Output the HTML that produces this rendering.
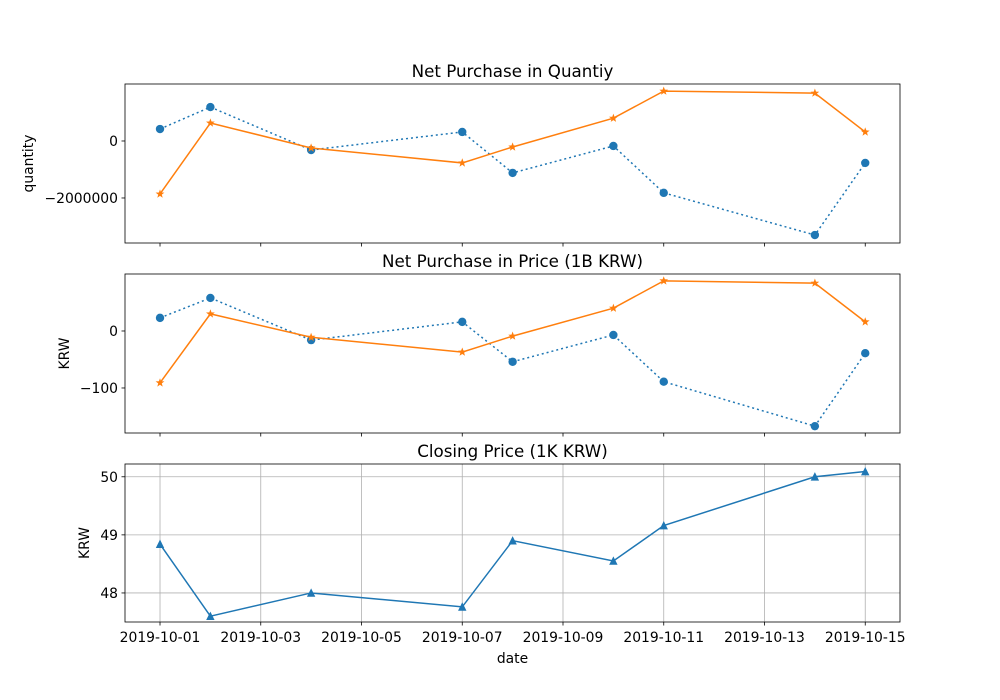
<!DOCTYPE html>
<html><head><meta charset="utf-8"><style>body{margin:0;background:#fff}svg{display:block;font-family:"DejaVu Sans","Liberation Sans",sans-serif}</style></head>
<body>
<svg id="c" width="1000" height="700"></svg>
<script>
const dates=["2019-10-01","2019-10-02","2019-10-04","2019-10-07","2019-10-08","2019-10-10","2019-10-11","2019-10-14","2019-10-15"];
const qtyBlue=[420000,1190000,-316000,316000,-1120000,-175000,-1820000,-3300000,-770000];
const qtyOrange=[-1860000,630000,-245000,-770000,-210000,800000,1750000,1680000,316000];
const priceBlue=[23,58,-16,16,-54,-7,-89,-167,-39];
const priceOrange=[-91,30,-11,-37,-9,40,88,84,16];
const closeVals=[48.84,47.60,48.0,47.76,48.9,48.55,49.16,50.0,50.09];
const xTickLabels=["2019-10-01","2019-10-03","2019-10-05","2019-10-07","2019-10-09","2019-10-11","2019-10-13","2019-10-15"];
const qtyTicks=[0,-2000000];
const priceTicks=[0,-100];
const closeTicks=[48,49,50];

const NS="http://www.w3.org/2000/svg";
const svg=document.getElementById('c');
function el(t,a,p){const e=document.createElementNS(NS,t);for(const k in a)e.setAttribute(k,a[k]);(p||svg).appendChild(e);return e;}
const L=125,R=900;
const day0=Date.UTC(2019,9,1);
function dayOf(s){const [y,m,d]=s.split('-').map(Number);return (Date.UTC(y,m-1,d)-day0)/86400000;}
const dMin=-0.695,dMax=14.69;
function X(s){return L+(dayOf(s)-dMin)/(dMax-dMin)*(R-L);}
const FS=13.9;

function panel(name,top,bot,yMin,yMax,title,ylabel,yticks,fmt,grid,showX,ylx){
  const g=el('g',{});
  
  
  const Y=v=>bot-(v-yMin)/(yMax-yMin)*(bot-top);
  if(grid){
    xTickLabels.forEach(t=>{const l=el('line',{x1:X(t),x2:X(t),y1:top,y2:bot,stroke:'#b0b0b0','stroke-width':0.8},g);});
    yticks.forEach(t=>{const l=el('line',{x1:L,x2:R,y1:Y(t),y2:Y(t),stroke:'#b0b0b0','stroke-width':0.8},g);});
  }
  const fr=el('rect',{x:L,y:top,width:R-L,height:bot-top,fill:'none',stroke:'#000','stroke-width':0.8},g);
  
  xTickLabels.forEach(t=>{
    el('line',{x1:X(t),x2:X(t),y1:bot,y2:bot+3.5,stroke:'#000','stroke-width':0.8},g);
    if(showX){const tx=el('text',{x:X(t),y:bot+20,'text-anchor':'middle','font-size':FS},g);tx.textContent=t;
      }
  });
  yticks.forEach(t=>{
    el('line',{x1:L-3.5,x2:L,y1:Y(t),y2:Y(t),stroke:'#000','stroke-width':0.8},g);
    const tx=el('text',{x:L-7,y:Y(t)+5,'text-anchor':'end','font-size':FS},g);tx.textContent=fmt(t);
    
  });
  const ti=el('text',{x:(L+R)/2,y:top-7,'text-anchor':'middle','font-size':16.7},g);ti.textContent=title;
  
  const yl=el('text',{x:0,y:0,'text-anchor':'middle','font-size':FS,transform:`translate(${ylx},${(top+bot)/2}) rotate(-90)`},g);yl.textContent=ylabel;
  
  return {g,Y};
}
function series(p,vals,color,dash,marker,name){
  const pts=vals.map((v,i)=>[X(dates[i]),p.Y(v)]);
  const pl=el('polyline',{points:pts.map(q=>q.join(',')).join(' '),fill:'none',stroke:color,'stroke-width':1.5,'stroke-dasharray':dash||''},p.g);
  
  pts.forEach(([x,y])=>{
    let m;
    if(marker==='o')m=el('circle',{cx:x,cy:y,r:4.2,fill:color},p.g);
    else if(marker==='*'){const a=[];for(let k=0;k<10;k++){const r=k%2?1.9:4.6,an=-Math.PI/2+k*Math.PI/5;a.push((x+r*Math.cos(an)).toFixed(1)+','+(y+r*Math.sin(an)).toFixed(1));}m=el('polygon',{points:a.join(' '),fill:color},p.g);}
    else m=el('polygon',{points:`${x},${y-4.6} ${x-4.2},${y+3.8} ${x+4.2},${y+3.8}`,fill:color},p.g);
    
  });
}
const fmt=t=>String(t).replace('-','\u2212');
const p1=panel('quantity-panel',84,243,-3580000,2000000,'Net Purchase in Quantiy','quantity',qtyTicks,fmt,false,false,33);
series(p1,qtyBlue,'#1f77b4','2,3','o','quantity-blue');
series(p1,qtyOrange,'#ff7f0e','','*','quantity-orange');
const p2=panel('price-panel',274,433,-179,100,'Net Purchase in Price (1B KRW)','KRW',priceTicks,fmt,false,false,69);
series(p2,priceBlue,'#1f77b4','2,3','o','price-blue');
series(p2,priceOrange,'#ff7f0e','','*','price-orange');
const p3=panel('closing-panel',464,622,47.5,50.22,'Closing Price (1K KRW)','KRW',closeTicks,fmt,true,true,89);
series(p3,closeVals,'#1f77b4','','^','closing-price');
const xl=el('text',{x:(L+R)/2,y:663,'text-anchor':'middle','font-size':FS});xl.textContent='date';


</script>
</body></html>
